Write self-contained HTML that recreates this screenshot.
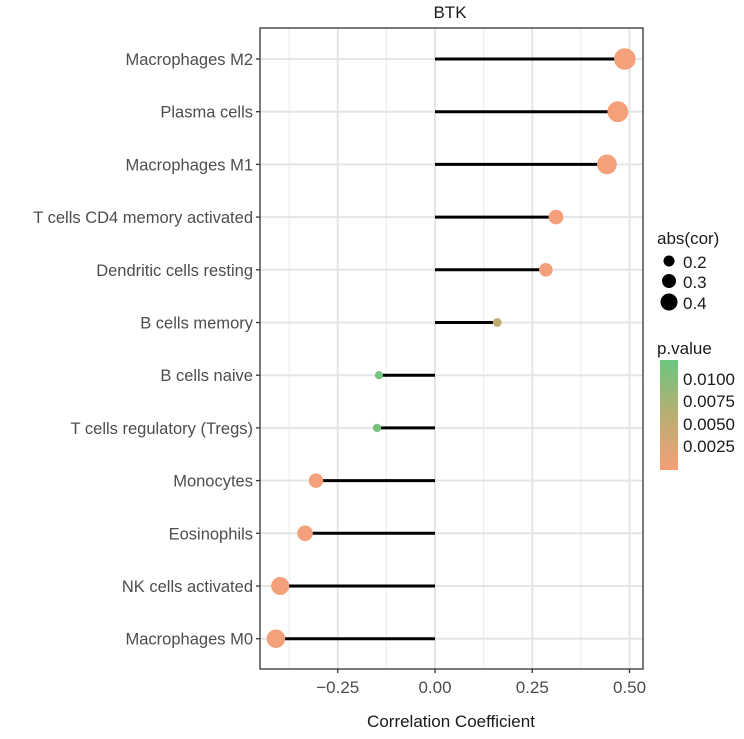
<!DOCTYPE html>
<html><head><meta charset="utf-8"><style>
body{margin:0;background:#fff;}
svg text{font-family:"Liberation Sans",Arial,sans-serif;}
</style></head><body>
<svg id="chart" width="744" height="734" xmlns="http://www.w3.org/2000/svg">
<defs><linearGradient id="pg" x1="0" y1="1" x2="0" y2="0">
<stop offset="0" stop-color="#f4a07a"/><stop offset="0.5" stop-color="#b9ae72"/><stop offset="1" stop-color="#6cc680"/></linearGradient></defs>
<text x="450" y="18" text-anchor="middle" font-size="17" fill="#1a1a1a">BTK</text>
<g id="grid"></g><g id="marks"></g><g id="axes"></g>
<rect x="260" y="28" width="383" height="641" fill="none" stroke="#333" stroke-width="1.3"/>
<text x="451" y="727" text-anchor="middle" font-size="17" fill="#1a1a1a">Correlation Coefficient</text>
<g>
<text x="657" y="244" font-size="17" fill="#1a1a1a">abs(cor)</text>
<circle cx="669" cy="261" r="5.5" fill="#000"/><text x="683" y="268" font-size="17" fill="#1a1a1a">0.2</text>
<circle cx="669" cy="281" r="7" fill="#000"/><text x="683" y="288" font-size="17" fill="#1a1a1a">0.3</text>
<circle cx="669" cy="302" r="8.5" fill="#000"/><text x="683" y="309" font-size="17" fill="#1a1a1a">0.4</text>
</g>
<g>
<text x="657" y="354" font-size="17" fill="#1a1a1a">p.value</text>
<rect x="660" y="360" width="18" height="110" fill="url(#pg)"/>
<g font-size="17" fill="#1a1a1a">
<text x="683" y="385">0.0100</text><text x="683" y="407">0.0075</text><text x="683" y="430">0.0050</text><text x="683" y="452">0.0025</text></g>
</g>
</svg>
<script>
const categories=["Macrophages M2","Plasma cells","Macrophages M1","T cells CD4 memory activated","Dendritic cells resting","B cells memory","B cells naive","T cells regulatory (Tregs)","Monocytes","Eosinophils","NK cells activated","Macrophages M0"];
const corValues=[0.488,0.47,0.442,0.311,0.285,0.16,-0.144,-0.149,-0.306,-0.334,-0.398,-0.409];
const pValues=[0.00001,0.00001,0.00001,0.0002,0.0004,0.0055,0.0112,0.0108,0.0002,0.0001,0.00001,0.00001];
const xTicks=[-0.25,0,0.25,0.5];
const xTickLabels=["-0.25","0.00","0.25","0.50"];
const NS="http://www.w3.org/2000/svg";
const X=v=>435+v*389;
const Y=i=>59+i*52.7;
const R=a=>4+(a-0.14)*19.5;
function col(p){let t=Math.max(0,Math.min(1,(p-0.0002)/0.0116));
const a=[244,160,122],m=[185,174,114],b=[108,198,128];let c;
if(t<0.5){const s=t*2;c=a.map((v,k)=>Math.round(v+(m[k]-v)*s));}else{const s=(t-0.5)*2;c=m.map((v,k)=>Math.round(v+(b[k]-v)*s));}
return `rgb(${c})`;}
function mk(tag,at,par){const e=document.createElementNS(NS,tag);for(const k in at)e.setAttribute(k,at[k]);document.getElementById(par).appendChild(e);return e;}
const minor=[-0.375,-0.125,0.125,0.375];
minor.forEach(v=>{const l=mk('line',{x1:X(v),x2:X(v),y1:28,y2:669,stroke:'#ebebeb','stroke-width':1},'grid');

});
xTicks.forEach((v,i)=>{const l=mk('line',{x1:X(v),x2:X(v),y1:28,y2:669,stroke:'#e5e5e5','stroke-width':2},'grid');


const t=mk('line',{x1:X(v),x2:X(v),y1:669,y2:673,stroke:'#333','stroke-width':1.3},'axes');


const tx=mk('text',{x:X(v),y:693,'text-anchor':'middle','font-size':17,fill:'#4d4d4d'},'axes');tx.textContent=xTickLabels[i].replace('-','\u2212');

});
categories.forEach((c,i)=>{const y=Y(i);
const g=mk('line',{x1:260,x2:643,y1:y,y2:y,stroke:'#e5e5e5','stroke-width':2},'grid');


const t=mk('line',{x1:256,x2:260,y1:y,y2:y,stroke:'#333','stroke-width':1.3},'axes');


const tx=mk('text',{x:253,y:y+6,'text-anchor':'end','font-size':16.5,fill:'#4d4d4d'},'axes');tx.textContent=c;


const v=corValues[i];
const s=mk('line',{x1:X(0),x2:X(v),y1:y,y2:y,stroke:'#000','stroke-width':3},'marks');


const d=mk('circle',{cx:X(v),cy:y,r:R(Math.abs(v)),fill:col(pValues[i])},'marks');

});
</script>
</body></html>
